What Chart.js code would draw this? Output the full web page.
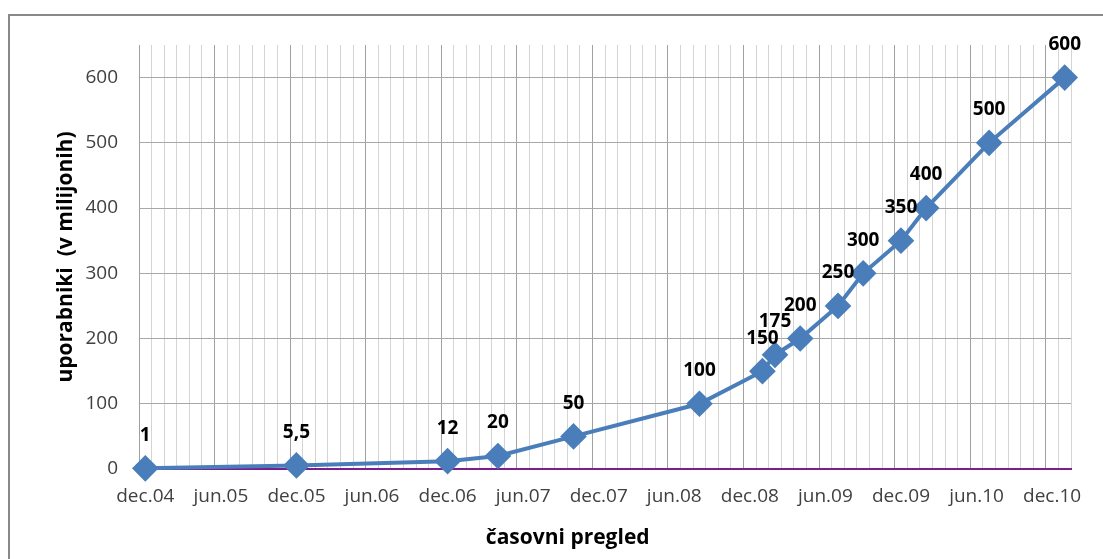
<!DOCTYPE html>
<html>
<head>
<meta charset="utf-8">
<style>
  html, body { margin: 0; padding: 0; background: #fff; }
  #wrap { width: 1103px; height: 559px; position: relative; }
</style>
<script src="https://cdn.jsdelivr.net/npm/chart.js@4/dist/chart.umd.min.js"></script>
</head>
<body>
<div id="wrap"><canvas id="c" width="1103" height="559"></canvas></div>
<script>
// ---- data ----
const months = ['2004-12','2005-12','2006-12','2007-04','2007-10','2008-08','2009-01','2009-02','2009-04','2009-07','2009-09','2009-12','2010-02','2010-07','2011-01'];
const users = [1, 5.5, 12, 20, 50, 100, 150, 175, 200, 250, 300, 350, 400, 500, 600];
const tickLabels = ['dec.04','jun.05','dec.05','jun.06','dec.06','jun.07','dec.07','jun.08','dec.08','jun.09','dec.09','jun.10','dec.10'];
const yTicks = [0, 100, 200, 300, 400, 500, 600];
const yTitle = 'uporabniki  (v milijonih)';
const xTitle = 'časovni pregled';

// month index relative to dec.04
function monthIndex(s) {
  const [y, m] = s.split('-').map(Number);
  return (y - 2004) * 12 + (m - 12);
}
const points = months.map((m, i) => ({ x: monthIndex(m), y: users[i] }));
const lastIdx = monthIndex(months[months.length - 1]);

const FONT = '"Open Sans", "Liberation Sans", sans-serif';

const decor = {
  id: 'decor',
  beforeDraw(chart) {
    const c = chart.ctx;
    c.save();
    c.fillStyle = '#fff';
    c.fillRect(0, 0, chart.width, chart.height);
    c.strokeStyle = '#888888';
    c.lineWidth = 2;
    c.strokeRect(9, 15, chart.width + 20, chart.height + 20);
    c.restore();
  },
  afterDraw(chart) {
    const c = chart.ctx;
    const a = chart.chartArea;
    c.save();
    // data labels
    const meta = chart.getDatasetMeta(0);
    c.font = 'bold 19px ' + FONT;
    c.fillStyle = '#000';
    c.textAlign = 'center';
    c.textBaseline = 'middle';
    meta.data.forEach((el, i) => {
      const txt = String(users[i]).replace('.', ',');
      c.fillText(txt, el.x, el.y - 33);
    });
    // axis titles
    c.font = 'bold 21px ' + FONT;
    c.fillStyle = '#000';
    c.fillText(xTitle, a.left + (a.right - a.left) * 0.46, 538);
    c.translate(66, (a.top + a.bottom) / 2);
    c.rotate(-Math.PI / 2);
    c.fillText(yTitle, 0, 0);
    c.restore();
  }
};

new Chart(document.getElementById('c'), {
  type: 'line',
  data: {
    datasets: [{
      data: points,
      borderColor: '#4a7ebb',
      backgroundColor: '#4a7ebb',
      borderWidth: 4,
      pointStyle: 'rectRot',
      pointRadius: 10.5,
      pointHoverRadius: 10.5,
      pointBackgroundColor: '#4a7ebb',
      pointBorderColor: '#4a7ebb',
      tension: 0,
      clip: false
    }]
  },
  options: {
    responsive: false,
    animation: false,
    events: [],
    layout: { padding: { top: 45, right: 32, left: 0, bottom: 0 } },
    plugins: { legend: { display: false }, tooltip: { enabled: false }, title: { display: false } },
    scales: {
      x: {
        type: 'linear',
        position: 'bottom',
        min: -0.5,
        max: lastIdx + 0.5,
        afterBuildTicks(scale) {
          const t = [];
          for (let v = -0.5; v <= lastIdx + 0.5; v += 1) t.push({ value: v });
          scale.ticks = t;
        },
        ticks: { display: false },
        grid: {
          drawTicks: false,
          lineWidth: 1,
          color: (ctx) => {
            const v = ctx.tick ? ctx.tick.value + 0.5 : 1;
            return (Math.round(v) % 6 === 0) ? '#a0a0a0' : '#d4d4d4';
          }
        },
        border: { display: true, color: '#7a1e8c', width: 2 },
        afterFit(scale) { scale.height = 0; }
      },
      xl: {
        type: 'linear',
        position: 'bottom',
        min: -0.5,
        max: lastIdx + 0.5,
        afterBuildTicks(scale) {
          scale.ticks = tickLabels.map((_, i) => ({ value: i * 6 }));
        },
        ticks: {
          autoSkip: false,
          maxRotation: 0,
          padding: 16,
          color: '#404040',
          font: { family: FONT, size: 19 },
          callback: (v) => tickLabels[Math.round(v / 6)]
        },
        grid: { display: false, drawTicks: false },
        border: { display: false },
        afterFit(scale) { scale.height = 90; }
      },
      y: {
        min: 0,
        max: 650,
        afterBuildTicks(scale) {
          scale.ticks = yTicks.map(v => ({ value: v }));
        },
        ticks: {
          padding: 21,
          color: '#404040',
          font: { family: FONT, size: 19 }
        },
        grid: { drawTicks: false, color: '#a8a8a8', lineWidth: 1 },
        border: { display: false },
        afterFit(scale) { scale.width = 139; }
      }
    }
  },
  plugins: [decor]
});
</script>
</body>
</html>
